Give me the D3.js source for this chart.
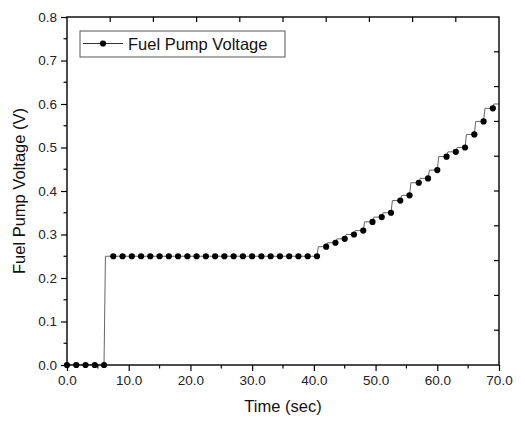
<!DOCTYPE html>
<html>
<head>
<meta charset="utf-8">
<script src="https://cdn.jsdelivr.net/npm/d3@7"></script>
<style>
  html, body { margin: 0; padding: 0; background: #fff; }
  svg { display: block; font-family: "Liberation Sans", Arial, sans-serif; }
</style>
</head>
<body>
<svg id="chart" width="521" height="422"></svg>
<script>
// ---- data ----
const seriesName = "Fuel Pump Voltage";
const timeSec = [0, 1.5, 3, 4.5, 6,
  7.5, 9, 10.5, 12, 13.5, 15, 16.5, 18, 19.5, 21, 22.5, 24, 25.5, 27, 28.5, 30,
  31.5, 33, 34.5, 36, 37.5, 39, 40.5,
  42, 43.5, 45, 46.5, 48, 49.5, 51, 52.5, 54, 55.5, 57, 58.5, 60, 61.5, 63, 64.5, 66, 67.5, 69];
const voltage = [0, 0, 0, 0, 0,
  0.25, 0.25, 0.25, 0.25, 0.25, 0.25, 0.25, 0.25, 0.25, 0.25, 0.25, 0.25, 0.25, 0.25, 0.25, 0.25,
  0.25, 0.25, 0.25, 0.25, 0.25, 0.25, 0.25,
  0.272, 0.281, 0.290, 0.300, 0.309, 0.329, 0.340, 0.350, 0.378, 0.390, 0.419, 0.429, 0.448, 0.479, 0.490, 0.500, 0.530, 0.560, 0.590];
// line continues (without marker) to the right edge
const lineEndTime = [70];
const lineEndVoltage = [0.60];

const xTicks = [0, 10, 20, 30, 40, 50, 60, 70];
const yTicks = [0, 0.1, 0.2, 0.3, 0.4, 0.5, 0.6, 0.7, 0.8];
const xLabel = "Time (sec)";
const yLabel = "Fuel Pump Voltage (V)";

// ---- layout ----
const svg = d3.select("#chart");
const m = { left: 67, top: 17, right: 499, bottom: 365 };

const x = d3.scaleLinear().domain([0, 70]).range([m.left, m.right]);
const y = d3.scaleLinear().domain([0, 0.8]).range([m.bottom, m.top]);

const pts = timeSec.map((t, i) => ({ t, v: voltage[i] }));
const linePts = pts.concat(lineEndTime.map((t, i) => ({ t, v: lineEndVoltage[i] })));

// ramp-then-hold curve (short rise, then flat to the next sample)
function rampCurve(f) {
  return function (context) {
    return {
      _x: NaN, _p: 0,
      areaStart() {}, areaEnd() {},
      lineStart() { this._x = NaN; this._p = 0; },
      lineEnd() {},
      point(px, py) {
        px = +px; py = +py;
        if (this._p === 0) { this._p = 1; context.moveTo(px, py); }
        else {
          const xm = this._x + (px - this._x) * f;
          context.lineTo(xm, py);
          context.lineTo(px, py);
        }
        this._x = px;
      }
    };
  };
}

// clip
svg.append("clipPath").attr("id", "clip").append("rect")
  .attr("x", m.left).attr("y", m.top)
  .attr("width", m.right - m.left).attr("height", m.bottom - m.top);

// line
const line = d3.line().x(d => x(d.t)).y(d => y(d.v)).curve(rampCurve(0.15));
svg.append("path").datum(linePts)
  .attr("clip-path", "url(#clip)")
  .attr("d", line).attr("fill", "none")
  .attr("stroke", "#666").attr("stroke-width", 1);

// markers
svg.append("g").selectAll("circle").data(pts).join("circle")
  .attr("cx", d => x(d.t)).attr("cy", d => y(d.v)).attr("r", 3.1)
  .attr("fill", "#000");

// axes
const fmt = d3.format(".1f");
const bottomAxis = d3.axisBottom(x).tickValues(xTicks).tickFormat(fmt).tickSize(6).tickPadding(4);
const gx = svg.append("g").attr("transform", `translate(0,${m.bottom})`).call(bottomAxis);
const leftAxis = d3.axisLeft(y).tickValues(yTicks).tickFormat(fmt).tickSize(6).tickPadding(4);
const gy = svg.append("g").attr("transform", `translate(${m.left},0)`).call(leftAxis);

// minor ticks
const xMinor = d3.range(5, 70, 10);
gx.selectAll(".minor").data(xMinor).join("line").attr("class", "minor")
  .attr("x1", d => x(d)).attr("x2", d => x(d)).attr("y1", 0).attr("y2", 3.5)
  .attr("stroke", "#000").attr("stroke-width", 1.2);
const yMinor = d3.range(0.05, 0.8, 0.1);
gy.selectAll(".minor").data(yMinor).join("line").attr("class", "minor")
  .attr("y1", d => y(d)).attr("y2", d => y(d)).attr("x1", 0).attr("x2", -3.5)
  .attr("stroke", "#000").attr("stroke-width", 1.2);

// top & right inward ticks (10 divisions)
const topTicks = d3.range(1, 10).map(k => k * 7);
svg.append("g").selectAll("line").data(topTicks).join("line")
  .attr("x1", d => x(d)).attr("x2", d => x(d)).attr("y1", m.top).attr("y2", m.top + 5)
  .attr("stroke", "#000").attr("stroke-width", 1.2);
const rightTicks = d3.range(1, 10).map(k => k * 0.08);
svg.append("g").selectAll("line").data(rightTicks).join("line")
  .attr("y1", d => y(d)).attr("y2", d => y(d)).attr("x1", m.right).attr("x2", m.right - 5)
  .attr("stroke", "#000").attr("stroke-width", 1.2);

[gx, gy].forEach(g => {
  g.select(".domain").remove();
  g.selectAll(".tick line").attr("stroke", "#000").attr("stroke-width", 1.2);
  g.selectAll(".tick text").attr("fill", "#222").style("font-size", "13.5px")
    .style("font-family", "'Liberation Sans', Arial, sans-serif");
});

// frame
svg.append("rect").attr("x", m.left).attr("y", m.top)
  .attr("width", m.right - m.left).attr("height", m.bottom - m.top)
  .attr("fill", "none").attr("stroke", "#000").attr("stroke-width", 1.4);

// axis titles
svg.append("text").attr("x", (m.left + m.right) / 2).attr("y", 412)
  .attr("text-anchor", "middle").style("font-size", "16.5px").attr("fill", "#111")
  .text(xLabel);
svg.append("text").attr("transform", `translate(25,${(m.top + m.bottom) / 2}) rotate(-90)`)
  .attr("text-anchor", "middle").style("font-size", "16.5px").attr("fill", "#111")
  .text(yLabel);

// legend
const lg = svg.append("g");
lg.append("rect").attr("x", 80).attr("y", 31).attr("width", 205).attr("height", 26)
  .attr("fill", "#fff").attr("stroke", "#555").attr("stroke-width", 1);
lg.append("line").attr("x1", 83).attr("x2", 123).attr("y1", 43.5).attr("y2", 43.5)
  .attr("stroke", "#333").attr("stroke-width", 1);
lg.append("circle").attr("cx", 103).attr("cy", 43.5).attr("r", 3.1).attr("fill", "#000");
lg.append("text").attr("x", 128).attr("y", 49.5).style("font-size", "16.5px").attr("fill", "#111")
  .text(seriesName);
</script>
</body>
</html>
